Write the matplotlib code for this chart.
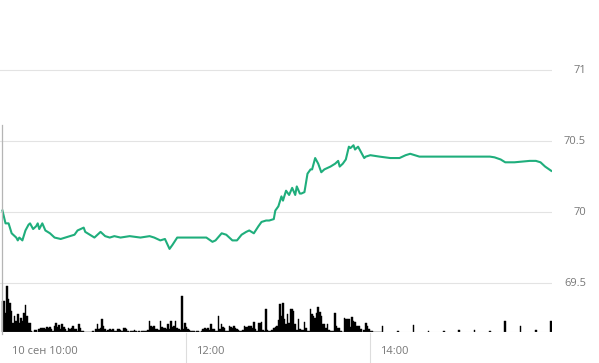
import numpy as np
import matplotlib.pyplot as plt
from matplotlib.transforms import blended_transform_factory

plt.rcParams['font.family'] = ['Open Sans', 'DejaVu Sans']

# price: minutes after 10:00 and value
t_price = [0, 2, 4, 6, 9, 10, 11, 13, 15, 17, 18, 20, 22, 23, 24, 26, 28, 31, 34, 38,
           41, 44, 47, 49, 53, 54, 57, 60, 64, 67, 70, 73, 77, 83, 90, 96, 99, 103, 106, 109,
           111, 114, 117, 122, 129, 133, 137, 139, 143, 146, 150, 153, 156, 159, 161, 164, 167, 169, 172, 174,
           177, 178, 180, 182, 183, 185, 187, 189, 191, 192, 194, 195, 197, 199, 201, 202, 204, 206, 208, 210,
           214, 217, 219, 220, 222, 224, 226, 227, 229, 230, 232, 235, 236, 237, 240, 246, 253, 259, 263, 266,
           272, 285, 305, 318, 321, 325, 328, 334, 344, 348, 351, 354, 358]
price = [70.01, 69.92, 69.92, 69.85, 69.82, 69.80, 69.82, 69.80, 69.87, 69.91, 69.92, 69.88, 69.90, 69.92, 69.88, 69.92, 69.87, 69.85, 69.82, 69.81,
         69.82, 69.83, 69.84, 69.87, 69.89, 69.86, 69.84, 69.82, 69.86, 69.83, 69.82, 69.83, 69.82, 69.83, 69.82, 69.83, 69.82, 69.80, 69.81, 69.74,
         69.77, 69.82, 69.82, 69.82, 69.82, 69.82, 69.79, 69.80, 69.85, 69.84, 69.80, 69.80, 69.84, 69.86, 69.87, 69.85, 69.90, 69.93, 69.94, 69.94,
         69.95, 70.01, 70.04, 70.11, 70.08, 70.15, 70.12, 70.17, 70.12, 70.18, 70.13, 70.13, 70.14, 70.27, 70.30, 70.30, 70.38, 70.34, 70.28, 70.30,
         70.32, 70.34, 70.36, 70.32, 70.34, 70.37, 70.46, 70.45, 70.47, 70.44, 70.46, 70.40, 70.38, 70.39, 70.40, 70.39, 70.38, 70.38, 70.40, 70.41,
         70.39, 70.39, 70.39, 70.39, 70.385, 70.37, 70.35, 70.35, 70.36, 70.36, 70.35, 70.32, 70.29]

# volume, one bar per minute from 10:00
vol_a = [31, 31, 19, 46, 33, 29, 21, 9, 16, 11, 18, 9, 14, 11, 19, 27, 16, 9, 9, 1,
         0, 2, 2, 0, 3, 4, 4, 4, 3, 5, 4, 5, 3, 1, 6, 9, 5, 7, 3, 8,
         5, 3, 1, 4, 3, 4, 6, 3, 3, 1, 8, 4, 1, 1, 0, 0, 0, 0, 0, 1, 0, 3]
vol_b = [8, 3, 4, 13, 6, 3, 1, 2, 3, 2, 3, 1, 1, 3, 3, 2, 1, 4, 4, 3,
         1, 0, 1, 1, 2, 1, 0, 1, 0, 1, 1, 1, 1, 2, 11, 6, 5, 6, 3, 3,
         2, 11, 5, 4, 4, 3, 8, 3, 11, 5, 6, 11, 4, 3, 2, 36, 3, 9, 5, 3, 2, 1]
vol_c = [1, 1, 0, 1, 1, 0, 1, 3, 4, 3, 4, 2, 8, 3, 3, 1, 1, 16, 3, 8,
         5, 4, 1, 1, 6, 5, 4, 6, 4, 3, 2, 1, 1, 2, 6, 5, 5, 6, 6, 4,
         10, 3, 1, 9, 9, 10, 2, 1, 23, 2, 1, 1, 2, 4, 5, 6, 12, 28, 16, 29, 13, 8]
vol_d = [18, 9, 23, 23, 21, 8, 2, 13, 3, 2, 2, 10, 4, 1, 1, 23, 18, 16, 14, 19,
         25, 20, 16, 8, 8, 4, 8, 2, 1, 1, 1, 19, 6, 4, 4, 1, 0, 14, 13, 13,
         13, 5, 15, 11, 10, 6, 6, 6, 3, 0, 2, 9, 6, 3, 1, 1, 0, 0, 0, 0, 0, 0]
# after 14:00 trades come about every ten minutes
t_late = [248, 258, 268, 278, 288, 298, 308, 318, 328, 338, 348, 358]
vol_late = [6, 1, 7, 1, 1, 2, 2, 1, 11, 6, 2, 11]

y_ticks = [69.5, 70, 70.5, 71]
y_labels = ['69.5', '70', '70.5', '71']
x_ticks = [0, 120, 240]
x_labels = ['10 сен 10:00', '12:00', '14:00']

vol = vol_a + vol_b + vol_c + vol_d
t_vol = list(range(len(vol))) + t_late
vol = vol + vol_late

W, H = 599, 363
fig = plt.figure(figsize=(W / 100, H / 100), dpi=100)
xlim = (-1.6, 358.5)
grey = '#e3e3e3'

# price panel covers the whole height
ax = fig.add_axes([0, 0, 552 / W, 1])
ax.set_xlim(*xlim)
ax.set_ylim(70 - (H - 212) * 0.5 / 71, 70 + 212 * 0.5 / 71)
for v, lab in zip(y_ticks, y_labels):
    ax.axhline(v, color=grey, lw=0.8, zorder=1)
    ax.text(586 / 552, v, lab, transform=blended_transform_factory(ax.transAxes, ax.transData),
            ha='right', va='center', fontsize=8, color='#777777', clip_on=False)
ax.plot(t_price, price, color='#1fae7c', lw=1.5, zorder=3, solid_joinstyle='round')
ax.axis('off')

# volume panel
axv = fig.add_axes([0, 1 - 332 / H, 552 / W, 49 / H])
axv.set_xlim(*xlim)
axv.set_ylim(0, 49)
axv.axhline(0, color=grey, lw=0.8)
axv.bar(t_vol, vol, width=1.0, color='#000000', edgecolor='#000000', linewidth=0.3)
axv.axis('off')

tr = blended_transform_factory(axv.transData, fig.transFigure)
axv.plot([0, 0], [1 - 125 / H, 1 - 334 / H], transform=tr, color='#b5b5b5', lw=0.9, clip_on=False)
for t, lab in zip(x_ticks, x_labels):
    if t > 0:
        axv.plot([t, t], [1 - 333 / H, 0], transform=tr, color='#dddddd', lw=0.8, clip_on=False)
    axv.text(t + 6.5, 1 - 351 / H, lab, transform=tr, ha='left', va='center',
             fontsize=8, color='#777777')

fig.savefig('out.png', dpi=100)
